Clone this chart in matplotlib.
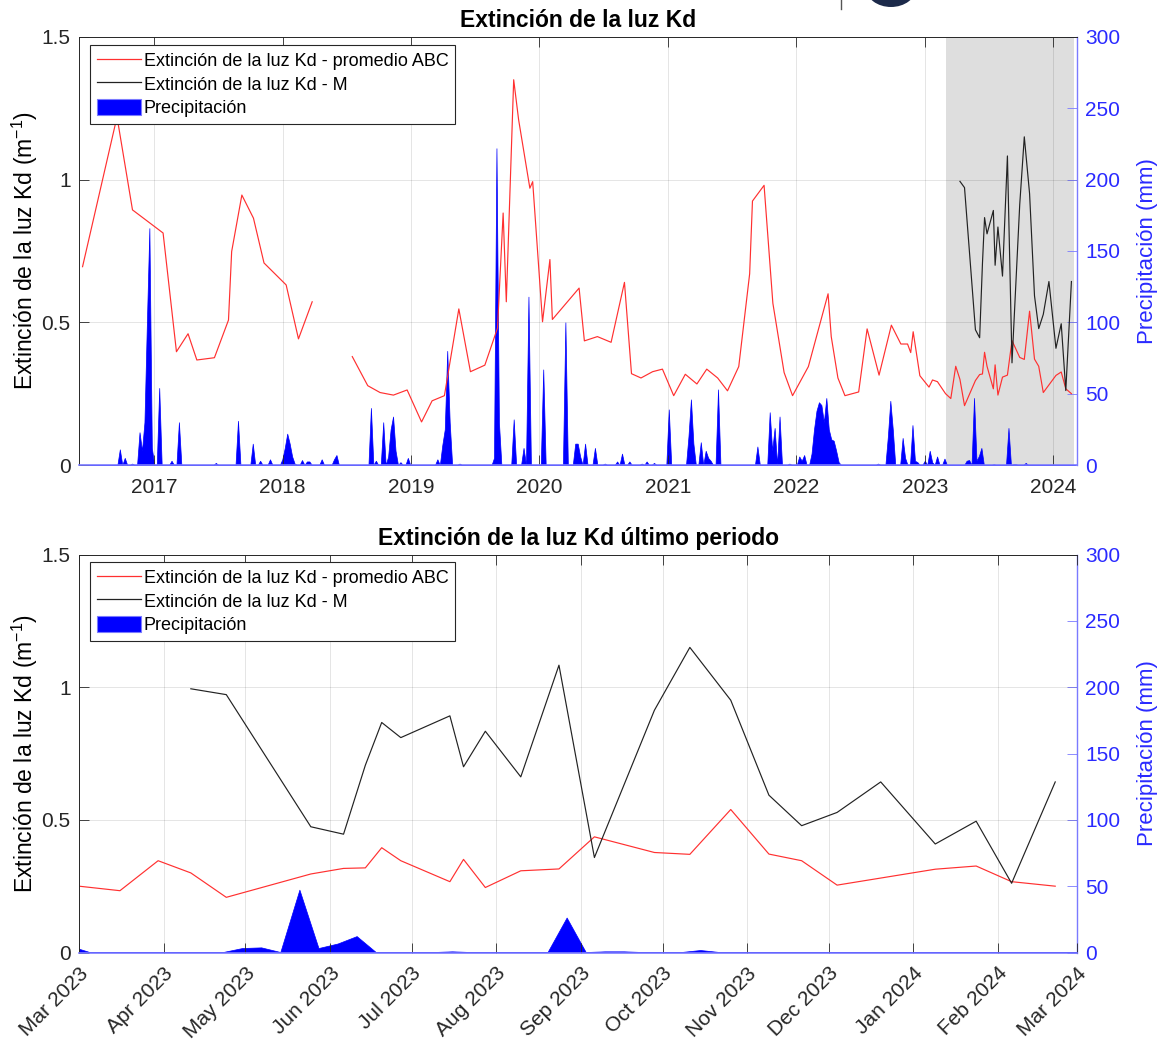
import numpy as np
import pandas as pd
import matplotlib
matplotlib.use('Agg')
import matplotlib.pyplot as plt
import matplotlib.dates as mdates
from matplotlib.lines import Line2D
from matplotlib.patches import Patch, Ellipse
from matplotlib.ticker import FuncFormatter, MultipleLocator

plt.rcParams['font.family'] = ['Liberation Sans', 'DejaVu Sans']
plt.rcParams['mathtext.default'] = 'regular'

# ---------------- data ----------------
# Kd promedio ABC, historical record (NaN = gap in 2018)
abc_hist_dates = [
    '2016-06-11', '2016-09-17', '2016-10-31', '2017-01-26', '2017-03-05', '2017-04-07',
    '2017-05-02', '2017-06-21', '2017-07-31', '2017-08-09', '2017-09-07', '2017-10-10',
    '2017-11-09', '2018-01-11', '2018-02-15', '2018-03-26', '2018-05-20', '2018-07-18',
    '2018-08-31', '2018-10-05', '2018-11-12', '2018-12-21', '2019-01-31', '2019-03-02',
    '2019-04-06', '2019-05-17', '2019-06-19', '2019-07-30', '2019-09-04', '2019-09-20',
    '2019-09-29', '2019-10-20', '2019-11-03', '2019-12-05', '2019-12-13', '2020-01-10',
    '2020-01-31', '2020-02-07', '2020-04-23', '2020-05-08', '2020-06-14', '2020-07-23',
    '2020-08-30', '2020-09-19', '2020-10-16', '2020-11-18', '2020-12-16', '2021-01-17',
    '2021-02-19', '2021-03-24', '2021-04-21', '2021-05-22', '2021-06-19', '2021-07-21',
    '2021-08-21', '2021-08-29', '2021-10-01', '2021-10-26', '2021-11-27', '2021-12-21',
    '2022-02-04', '2022-04-01', '2022-04-10', '2022-04-29', '2022-05-19', '2022-06-27',
    '2022-07-21', '2022-08-24', '2022-09-28', '2022-10-25', '2022-11-13', '2022-11-22',
    '2022-11-29', '2022-12-18', '2023-01-13', '2023-01-23', '2023-02-06']
abc_hist_vals = [
    0.695, 1.22, 0.894, 0.813, 0.397, 0.46,
    0.368, 0.376, 0.508, 0.748, 0.946, 0.865,
    0.708, 0.631, 0.442, 0.572, np.nan, 0.38,
    0.278, 0.254, 0.245, 0.263, 0.151, 0.225,
    0.243, 0.547, 0.327, 0.35, 0.48, 0.883,
    0.572, 1.35, 1.21, 0.97, 0.993, 0.502,
    0.72, 0.51, 0.62, 0.435, 0.45, 0.43,
    0.64, 0.32, 0.305, 0.327, 0.336, 0.243,
    0.318, 0.284, 0.336, 0.305, 0.26, 0.345,
    0.67, 0.925, 0.98, 0.567, 0.324, 0.243,
    0.345, 0.60, 0.45, 0.305, 0.243, 0.256,
    0.477, 0.315, 0.49, 0.424, 0.424, 0.394,
    0.467, 0.313, 0.273, 0.298, 0.292]

# Kd promedio ABC, last period
abc_last_dates = [
    '2023-03-01', '2023-03-16', '2023-03-30', '2023-04-11', '2023-04-24', '2023-05-25',
    '2023-06-06', '2023-06-14', '2023-06-20', '2023-06-27', '2023-07-15', '2023-07-20',
    '2023-07-28', '2023-08-10', '2023-08-24', '2023-09-06', '2023-09-28', '2023-10-11',
    '2023-10-26', '2023-11-09', '2023-11-21', '2023-12-04', '2024-01-09', '2024-01-24',
    '2024-02-06', '2024-02-22']
abc_last_vals = [
    0.250, 0.233, 0.346, 0.300, 0.208, 0.296,
    0.317, 0.319, 0.395, 0.346, 0.267, 0.351,
    0.245, 0.308, 0.315, 0.436, 0.377, 0.370,
    0.539, 0.371, 0.346, 0.254, 0.314, 0.326,
    0.267, 0.250]

# Kd estación M
m_dates = [
    '2023-04-11', '2023-04-24', '2023-05-25', '2023-06-06', '2023-06-14', '2023-06-20',
    '2023-06-27', '2023-07-15', '2023-07-20', '2023-07-28', '2023-08-10', '2023-08-24',
    '2023-09-06', '2023-09-28', '2023-10-11', '2023-10-26', '2023-11-09', '2023-11-21',
    '2023-12-04', '2023-12-20', '2024-01-09', '2024-01-24', '2024-02-06', '2024-02-22']
m_vals = [
    0.994, 0.972, 0.474, 0.446, 0.706, 0.867,
    0.810, 0.892, 0.700, 0.834, 0.662, 1.083,
    0.358, 0.913, 1.150, 0.951, 0.593, 0.478,
    0.528, 0.643, 0.409, 0.495, 0.261, 0.643]

# Weekly precipitation (mm): weeks with rain; all other weeks are 0
rain_dates = [
    '2016-09-25', '2016-10-09', '2016-10-30', '2016-11-20', '2016-11-27', '2016-12-04',
    '2016-12-11', '2016-12-18', '2016-12-25', '2017-01-15', '2017-02-19', '2017-03-12',
    '2017-06-25', '2017-08-27', '2017-10-08', '2017-10-29', '2017-11-26', '2017-12-31',
    '2018-01-07', '2018-01-14', '2018-01-21', '2018-01-28', '2018-02-04', '2018-02-25',
    '2018-03-11', '2018-03-18', '2018-04-22', '2018-05-27', '2018-06-03', '2018-09-09',
    '2018-09-23', '2018-10-14', '2018-10-28', '2018-11-04', '2018-11-11', '2018-11-18',
    '2018-12-02', '2018-12-23', '2019-03-17', '2019-03-31', '2019-04-07', '2019-04-14',
    '2019-04-21', '2019-05-19', '2019-08-25', '2019-09-01', '2019-09-08', '2019-10-20',
    '2019-11-17', '2019-12-01', '2020-01-12', '2020-03-15', '2020-04-12', '2020-04-19',
    '2020-04-26', '2020-05-10', '2020-06-07', '2020-07-05', '2020-08-09', '2020-08-23',
    '2020-09-13', '2020-10-18', '2020-11-01', '2020-11-22', '2021-01-03', '2021-02-28',
    '2021-03-07', '2021-03-14', '2021-04-04', '2021-04-18', '2021-04-25', '2021-05-02',
    '2021-05-23', '2021-09-12', '2021-10-17', '2021-10-24', '2021-10-31', '2021-11-14',
    '2021-12-12', '2022-01-09', '2022-01-16', '2022-01-23', '2022-02-13', '2022-02-20',
    '2022-02-27', '2022-03-06', '2022-03-13', '2022-03-20', '2022-03-27', '2022-04-03',
    '2022-04-10', '2022-04-17', '2022-04-24', '2022-05-01', '2022-08-21', '2022-09-18',
    '2022-09-25', '2022-10-02', '2022-10-30', '2022-11-06', '2022-11-27', '2022-12-04',
    '2022-12-11', '2023-01-01', '2023-01-15', '2023-01-22', '2023-02-05', '2023-02-26',
    '2023-04-30', '2023-05-07', '2023-05-21', '2023-05-28', '2023-06-04', '2023-06-11',
    '2023-07-16', '2023-08-27', '2023-09-10', '2023-09-17', '2023-10-15']
rain_vals = [
    11, 5, 1, 23, 10, 30,
    100, 166, 12, 54, 3, 30,
    1.5, 31, 15, 3, 4, 4,
    12, 22, 15, 6, 1, 3.5,
    2.5, 2.5, 4, 4, 7, 40,
    3, 30, 6, 25, 34, 10,
    2, 5, 4, 14, 25, 80,
    30, 1, 5, 222, 30, 32,
    12, 118, 67, 100, 15, 15,
    6, 15, 12, 1, 2.5, 8,
    2.5, 1, 2.5, 1.5, 39, 20,
    46, 15, 16, 10, 5, 3,
    53, 13, 37, 10, 26, 34,
    1, 6, 3, 7, 8, 25,
    38, 44, 42, 30, 47, 25,
    18, 17, 10, 2, 1, 20,
    45, 25, 19, 5, 28, 3,
    2, 3, 10, 2, 6, 4.5,
    3, 3.5, 47, 3, 6.4, 12,
    0.5, 26, 0.5, 0.5, 1.5]

# ---------------- build series ----------------
abc_dates = pd.to_datetime(abc_hist_dates + abc_last_dates)
abc_vals = np.array(abc_hist_vals + abc_last_vals, dtype=float)
abc_l_dates = pd.to_datetime(abc_last_dates)
abc_l_vals = np.array(abc_last_vals, dtype=float)
m_d = pd.to_datetime(m_dates)
m_v = np.array(m_vals, dtype=float)

weeks = pd.date_range('2016-06-05', '2024-03-03', freq='W-SUN')
rain = pd.Series(0.0, index=weeks)
idx = weeks.get_indexer(pd.to_datetime(rain_dates), method='nearest')
rain.iloc[idx] = rain_vals

# ---------------- styles ----------------
RED = '#ff3030'
BLACK = '#222222'
BLUE = '#0000ff'
BLUE_AX = '#7a7aff'
BLUE_TXT = '#2a2aff'
DARK = '#262626'
GRAYSPAN = '#dedede'

fig = plt.figure(figsize=(11.64, 10.41), dpi=100)
fig.patch.set_facecolor('white')


def setup(ax, axp, xlim, title):
    ax.set_zorder(axp.get_zorder() + 1)
    ax.patch.set_visible(False)
    ax.set_xlim(*xlim)
    ax.set_ylim(0, 1.5)
    axp.set_ylim(0, 300)
    ax.yaxis.set_major_locator(MultipleLocator(0.5))
    ax.yaxis.set_major_formatter(FuncFormatter(lambda v, p: '%g' % v))
    axp.yaxis.set_major_locator(MultipleLocator(50))
    ax.grid(True, color='black', alpha=0.12, lw=0.6)
    ax.tick_params(axis='both', direction='in', length=7, width=0.6,
                   colors=DARK, labelsize=15, top=True, right=False)
    ax.tick_params(axis='x', pad=9)
    ax.tick_params(axis='y', pad=6)
    axp.tick_params(axis='y', direction='in', length=7, width=0.6, pad=6,
                    colors=BLUE_AX, labelcolor=BLUE_TXT, labelsize=15)
    for s in ['left', 'top']:
        ax.spines[s].set_color(DARK)
        ax.spines[s].set_linewidth(0.7)
    ax.spines['right'].set_visible(False)
    ax.spines['bottom'].set_color(BLUE_AX)
    ax.spines['bottom'].set_linewidth(1.2)
    for s in ['left', 'top', 'bottom']:
        axp.spines[s].set_visible(False)
    axp.spines['right'].set_color(BLUE_AX)
    axp.spines['right'].set_linewidth(1.0)
    ax.set_ylabel('Extinción de la luz Kd (m$^{-1}$)', fontsize=16.5, color='black', labelpad=1)
    axp.set_ylabel('Precipitación (mm)', fontsize=16, color=BLUE_TXT, labelpad=12)
    ax.set_title(title, fontsize=16.5, fontweight='bold', pad=7)
    handles = [Line2D([], [], color=RED, lw=0.9),
               Line2D([], [], color=BLACK, lw=0.9),
               Patch(facecolor=BLUE, edgecolor=BLUE_AX, lw=0.8)]
    labels = ['Extinción de la luz Kd - promedio ABC',
              'Extinción de la luz Kd - M',
              'Precipitación']
    leg = ax.legend(handles, labels, loc='upper left', bbox_to_anchor=(0.011, 0.981),
                    borderaxespad=0, fontsize=13, frameon=True, fancybox=False,
                    framealpha=1, edgecolor=DARK, handlelength=2.45, handleheight=1.0,
                    handletextpad=0.15, labelspacing=0.28, borderpad=0.38)
    leg.get_frame().set_linewidth(0.8)


# ---------------- top panel ----------------
ax1 = fig.add_axes([0.0679, 0.5533, 0.8574, 0.4112])
ax1p = ax1.twinx()
ax1p.axvspan(pd.Timestamp('2023-03-01'), pd.Timestamp('2024-03-01'),
             color=GRAYSPAN, lw=0, zorder=0)
ax1p.fill_between(rain.index, 0, rain.values, color=BLUE, lw=0.5, zorder=2)
ax1.plot(abc_dates, abc_vals, color=RED, lw=0.85)
ax1.plot(m_d, m_v, color=BLACK, lw=0.85)
setup(ax1, ax1p, (pd.Timestamp('2016-06-01'), pd.Timestamp('2024-03-09')),
      'Extinción de la luz Kd')
ax1.xaxis.set_major_locator(mdates.YearLocator())
ax1.xaxis.set_major_formatter(mdates.DateFormatter('%Y'))

# ---------------- bottom panel ----------------
ax2 = fig.add_axes([0.0679, 0.0850, 0.8574, 0.3823])
ax2p = ax2.twinx()
ax2p.fill_between(rain.index, 0, rain.values, color=BLUE, lw=0.5, zorder=2)
ax2.plot(abc_l_dates, abc_l_vals, color=RED, lw=0.85)
ax2.plot(m_d, m_v, color=BLACK, lw=0.85)
setup(ax2, ax2p, (pd.Timestamp('2023-03-01'), pd.Timestamp('2024-03-01')),
      'Extinción de la luz Kd último periodo')
ax2.xaxis.set_major_locator(mdates.MonthLocator())
ax2.xaxis.set_major_formatter(mdates.DateFormatter('%b %Y'))
ax2.tick_params(axis='x', pad=8)
for lab in ax2.get_xticklabels():
    lab.set_rotation(45)
    lab.set_ha('right')
    lab.set_rotation_mode('anchor')

# cropped logo fragment at the top edge
fig.add_artist(Line2D([841 / 1164, 841 / 1164], [1 - 9 / 1041, 1.0],
                      transform=fig.transFigure, color='#555555', lw=1))
fig.add_artist(Ellipse((891 / 1164, 1 + 12 / 1041), 50 / 1164, 38 / 1041,
                       transform=fig.transFigure, facecolor='#1c2a4a', edgecolor='none'))

fig.savefig('out.png', dpi=100, facecolor='white')
